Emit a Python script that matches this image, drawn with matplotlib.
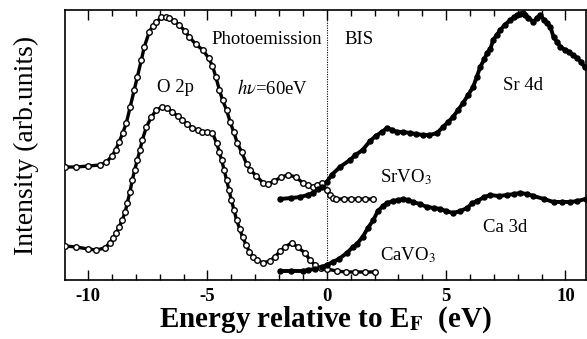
import numpy as np
import matplotlib.pyplot as plt

plt.rcParams['font.family'] = 'serif'
plt.rcParams['font.serif'] = ['Liberation Serif', 'DejaVu Serif']
plt.rcParams['mathtext.fontset'] = 'stix'

# SrVO3 photoemission (open circles)
sr_pes_e = [-10.95, -10.5, -10.0, -9.5, -9.24, -9.0, -8.85, -8.7, -8.55, -8.4, -8.24, -8.07, -7.94, -7.77,
            -7.65, -7.44, -7.3, -7.14, -6.93, -6.75, -6.6, -6.4, -6.18, -5.95, -5.76, -5.5, -5.2, -4.95,
            -4.79, -4.65, -4.5, -4.37, -4.2, -4.05, -3.9, -3.75, -3.57, -3.36, -3.2, -2.95, -2.67, -2.45,
            -2.2, -1.9, -1.62, -1.3, -1.0, -0.78, -0.58, -0.4, -0.2, 0.0, 0.12, 0.25, 0.4, 0.7, 1.0, 1.3,
            1.6, 1.92]
sr_pes_i = [113, 113, 114, 115, 118, 124, 130, 138, 147, 157, 173, 190, 203, 220,
            233, 248, 254, 258, 263, 263, 262, 259, 255, 249, 243, 236, 230, 222,
            214, 203, 190, 180, 170, 158, 148, 137, 128, 116, 110, 104, 97, 96,
            99, 103, 105, 103, 97, 95, 93, 95, 97, 90, 85, 82, 81, 81, 81, 81,
            81, 81]

# CaVO3 photoemission (open circles)
ca_pes_e = [-10.95, -10.5, -10.0, -9.66, -9.3, -9.1, -8.95, -8.82, -8.7, -8.57, -8.45, -8.36, -8.25, -8.15,
            -8.05, -7.94, -7.83, -7.73, -7.56, -7.35, -7.14, -6.89, -6.7, -6.47, -6.25, -6.05, -5.84, -5.63,
            -5.4, -5.21, -5.0, -4.79, -4.62, -4.5, -4.41, -4.3, -4.2, -4.1, -4.0, -3.89, -3.78, -3.65,
            -3.53, -3.38, -3.24, -3.08, -2.94, -2.67, -2.4, -2.18, -1.95, -1.76, -1.47, -1.22, -0.92, -0.7,
            -0.5, -0.25, 0.0, 0.42, 0.8, 1.2, 1.6, 2.0]
ca_pes_i = [34, 33, 31, 30, 32, 37, 42, 47, 53, 60, 68, 77, 88, 100,
            110, 120, 130, 140, 153, 163, 170, 173, 172, 168, 164, 160, 156, 152,
            150, 148, 148, 147, 137, 128, 120, 110, 100, 90, 80, 70, 60, 51,
            43, 35, 28, 23, 20, 17, 19, 23, 29, 33, 37, 33, 27, 20,
            15, 12, 11, 9, 8, 8, 8, 8]

# SrVO3 BIS (filled dots)
sr_bis_e = [-1.96, -1.5, -1.12, -0.8, -0.58, -0.38, -0.2, 0.0, 0.2, 0.55, 0.97, 1.2, 1.5, 1.81, 2.05,
            2.3, 2.52, 2.75, 2.94, 3.2, 3.49, 3.75, 4.03, 4.3, 4.62, 4.87, 5.08, 5.29, 5.5, 5.71,
            5.92, 6.13, 6.28, 6.43, 6.6, 6.72, 6.85, 6.97, 7.12, 7.27, 7.45, 7.69, 7.85, 7.98, 8.1,
            8.2, 8.3, 8.45, 8.66, 8.8, 8.95, 9.1, 9.24, 9.37, 9.5, 9.65, 9.79, 10.0, 10.15, 10.3,
            10.5, 10.65, 10.8]
sr_bis_i = [81, 82, 83, 85, 87, 91, 93, 98, 105, 113, 120, 125, 130, 139, 144,
            148, 152, 150, 148, 148, 147, 146, 145, 145, 147, 153, 158, 163, 170, 177,
            185, 193, 203, 213, 221, 227, 231, 240, 245, 250, 255, 260, 263, 265, 266,
            267, 265, 262, 258, 262, 265, 260, 257, 253, 243, 238, 233, 230, 228, 225,
            222, 218, 213]

# CaVO3 BIS (filled dots)
ca_bis_e = [-1.96, -1.5, -1.0, -0.79, -0.5, -0.2, 0.0, 0.25, 0.5, 0.84, 1.09, 1.26, 1.5, 1.72, 1.95,
            2.14, 2.35, 2.52, 2.77, 2.98, 3.19, 3.4, 3.61, 3.9, 4.2, 4.5, 4.75, 5.0, 5.29, 5.6,
            5.88, 6.1, 6.3, 6.6, 6.85, 7.2, 7.56, 7.85, 8.1, 8.4, 8.66, 9.1, 9.5, 9.85, 10.2,
            10.5, 10.84]
ca_bis_i = [9, 9, 9, 10, 11, 13, 15, 18, 21, 27, 33, 36, 43, 52, 60,
            69, 74, 77, 79, 80, 81, 80, 78, 76, 73, 72, 71, 69, 67, 69,
            72, 77, 79, 83, 85, 84, 85, 86, 87, 86, 84, 81, 78, 78, 78,
            79, 81]

fig = plt.figure(figsize=(5.87, 3.39), dpi=100)
ax = fig.add_axes([65/587, 59/339, 521/587, 270/339])

for e, i in [(sr_pes_e, sr_pes_i), (ca_pes_e, ca_pes_i)]:
    ax.plot(e, i, '-', color='black', lw=2.4, zorder=2)
    ax.plot(e, i, 'o', mfc='white', mec='black', ms=4.0, mew=1.0, zorder=3)
for e, i in [(sr_bis_e, sr_bis_i), (ca_bis_e, ca_bis_i)]:
    ax.plot(e, i, '-', color='black', lw=2.8, zorder=2)
    ax.plot(e, i, 'o', color='black', ms=3.6, zorder=3)

ax.axvline(0, color='black', lw=0.8, ls=(0, (1, 1.2)), zorder=1)

fs = 13.5
ax.text(-6.34, 192, 'O 2p', fontsize=fs, ha='center', va='center')
ax.text(-2.52, 241, 'Photoemission', fontsize=fs, ha='center', va='center')
ax.text(1.34, 241, 'BIS', fontsize=fs, ha='center', va='center')
ax.text(-2.27, 192, r'$h\nu$=60eV', fontsize=fs, ha='center', va='center')
ax.text(8.2, 195, 'Sr 4d', fontsize=fs, ha='center', va='center')
ax.text(3.3, 103, r'SrVO$_3$', fontsize=fs, ha='center', va='center')
ax.text(7.47, 52, 'Ca 3d', fontsize=fs, ha='center', va='center')
ax.text(3.4, 25, r'CaVO$_3$', fontsize=fs, ha='center', va='center')

ax.set_xlim(-10.97, 10.86)
ax.set_ylim(0, 270)
ax.set_xticks([-10, -5, 0, 5, 10])
ax.set_xticks(np.arange(-10, 11, 1), minor=True)
ax.set_xticklabels(['-10', '-5', '0', '5', '10'], fontweight='bold', fontsize=13.5)
ax.tick_params(axis='x', which='both', direction='in', top=True, width=1)
ax.tick_params(axis='x', which='major', length=7, pad=6)
ax.tick_params(axis='x', which='minor', length=4)
ax.set_yticks([])
for s in ax.spines.values():
    s.set_linewidth(1.2)

ax.set_xlabel(r'Energy relative to E$_{\mathbf{F}}$  (eV)', fontsize=21, fontweight='bold', labelpad=-1)
ax.set_ylabel('Intensity (arb.units)', fontsize=20, labelpad=19)

plt.savefig('out.png', dpi=100)
